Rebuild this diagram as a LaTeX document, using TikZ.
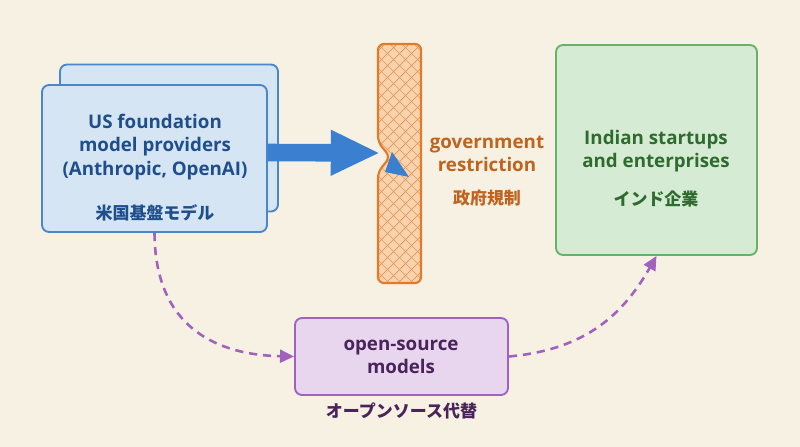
\documentclass[tikz,border=0pt]{standalone}
\usepackage{fontspec}
\setmainfont{Open Sans}
\newfontfamily\cjk{Noto Sans CJK JP}
\usetikzlibrary{arrows.meta,positioning,calc}
\definecolor{bgc}{HTML}{F7F1E3}
\definecolor{bluefill}{HTML}{D5E5F3}
\definecolor{blueline}{HTML}{4A86C8}
\definecolor{bluetext}{HTML}{1F4E8C}
\definecolor{arrowblue}{HTML}{3A7FD0}
\definecolor{orfill}{HTML}{F9D3AE}
\definecolor{orline}{HTML}{E07B2A}
\definecolor{ortext}{HTML}{C0631E}
\definecolor{grfill}{HTML}{D6EBD3}
\definecolor{grline}{HTML}{66B266}
\definecolor{grtext}{HTML}{2E6B2E}
\definecolor{pufill}{HTML}{E8D6EF}
\definecolor{puline}{HTML}{A062BE}
\definecolor{putext}{HTML}{4A235A}
\tikzset{
  box/.style={draw, line width=1.6pt, rounded corners=6pt},
  lbl/.style={font=\bfseries\fontsize{16}{20}\selectfont, align=center},
  jp/.style={font=\cjk\bfseries\fontsize{14.5}{17}\selectfont},
  dasharrow/.style={draw=puline, line width=2.2pt, dash pattern=on 7pt off 5pt, -{Triangle[length=12pt,width=11pt]}}
}
\begin{document}
\begin{tikzpicture}[x=0.03cm, y=-0.03cm]
				% background
				\fill[bgc] (0,0) rectangle (800,447);

				% US providers (stacked boxes)
				\node[box, draw=blueline, fill=bluefill, minimum width=218*0.03cm, minimum height=147*0.03cm] (back) at (169,138) {};
				\node[box, draw=blueline, fill=bluefill, minimum width=225*0.03cm, minimum height=147*0.03cm] (us) at (154.5,158.5) {};
				\node[lbl, text=bluetext] (ustxt) at (155,147) {US foundation\\model providers\\(Anthropic, OpenAI)};
				\node[jp, text=bluetext] (usjp) at (155,213) {米国基盤モデル};

				% barrier
				\begin{scope}
					\clip[rounded corners=5pt] (378,44) -- (421,44) -- (421,283) -- (378,283) -- (378,172) -- (390,157) -- (378,142) -- cycle;
					\fill[orfill] (370,40) rectangle (430,290);
					\foreach \d in {-300,-288,...,300}
						\draw[orline!80, line width=0.6pt] (378+\d,44) -- ++(260,260) (421+\d,44) -- ++(-260,260);
				\end{scope}
				\draw[orline, line width=1.8pt, rounded corners=5pt] (378,44) -- (421,44) -- (421,283) -- (378,283) -- (378,172) -- (390,157) -- (378,142) -- cycle;
				\coordinate (bar) at (380,153);
				\node[lbl, text=ortext] (govtxt) at (487,154) {government\\restriction};
				\node[jp, text=ortext] (govjp) at (487,198) {政府規制};

				% blocked arrow
				\draw[arrowblue, line width=15pt, -{Triangle[length=42pt,width=36pt]}] (us.east) ++(0,-6) coordinate (ua) -- (bar);
				\fill[arrowblue] (392,152) -- (409,177) -- (385,172) -- cycle;

				% Indian enterprises
				\node[box, draw=grline, fill=grfill, minimum width=201*0.03cm, minimum height=210*0.03cm] (ind) at (656.5,150) {};
				\node[lbl, text=grtext] (indtxt) at (656,151) {Indian startups\\and enterprises};
				\node[jp, text=grtext] (indjp) at (656,199) {インド企業};

				% open-source
				\node[box, draw=puline, fill=pufill, minimum width=213*0.03cm, minimum height=77*0.03cm] (os) at (401.5,356.5) {};
				\node[lbl, text=putext] (ostxt) at (401,357) {open-source\\models};
				\node[jp, text=putext, below=2pt of os] (osjp) {オープンソース代替};

				% alternative route
				\draw[dasharrow] (us.south) .. controls (155,330) and (220,355) .. (os.west);
				\draw[dasharrow] (os.east) .. controls (580,350) and (620,320) .. (ind.south);
			\end{tikzpicture}
\end{document}
